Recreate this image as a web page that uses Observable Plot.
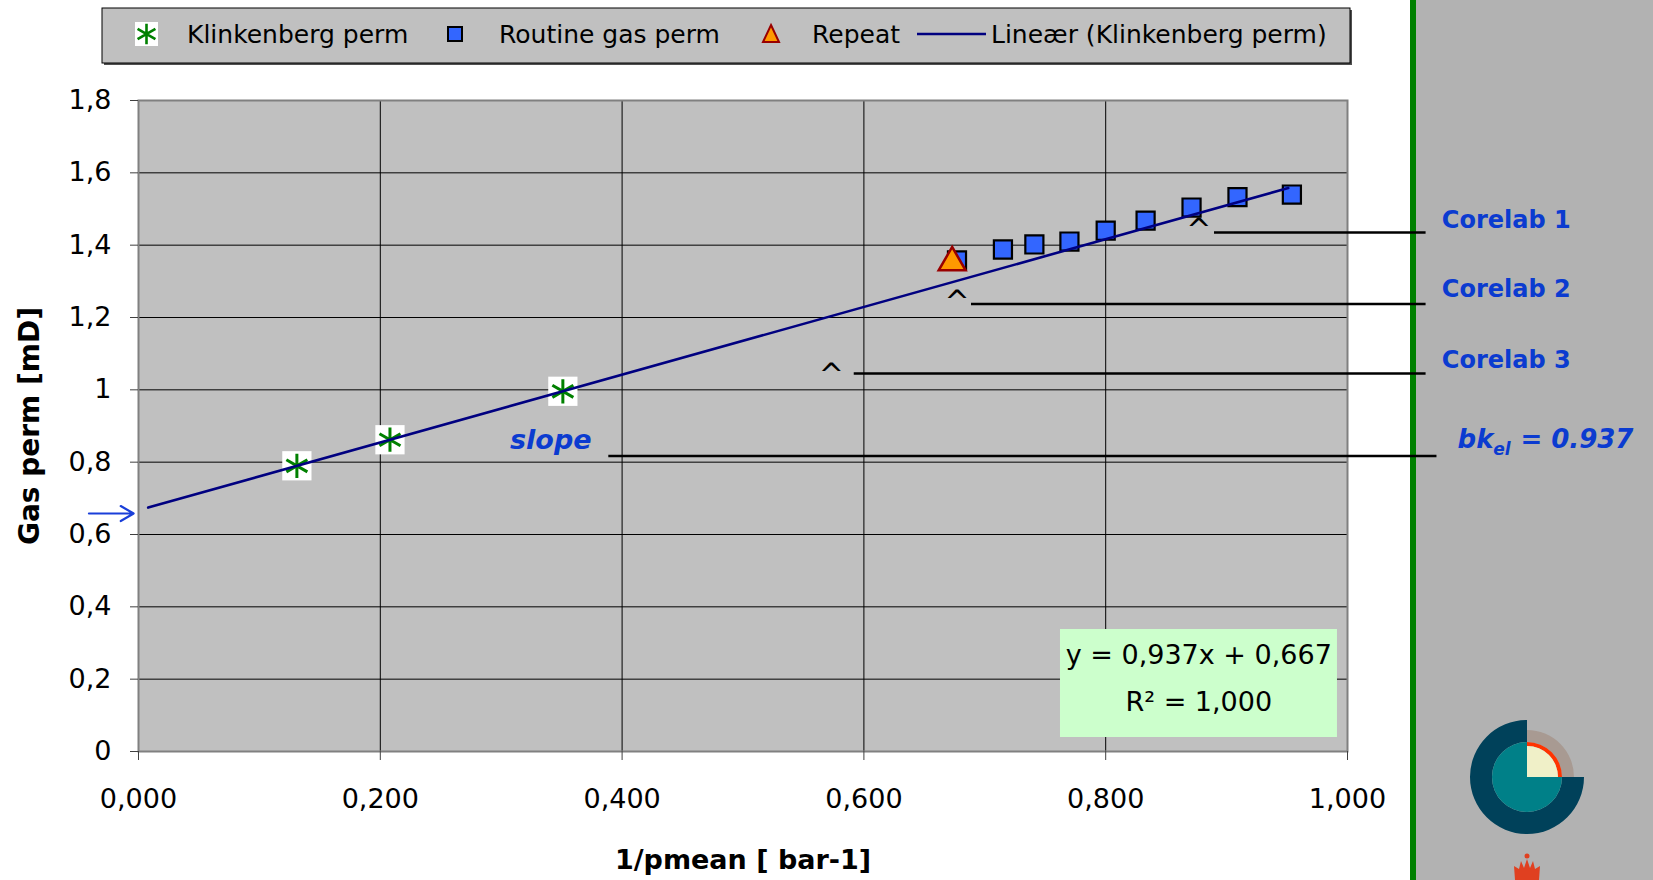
<!DOCTYPE html>
<html>
<head>
<meta charset="utf-8">
<script src="https://cdn.jsdelivr.net/npm/d3@7"></script>
<script src="https://cdn.jsdelivr.net/npm/@observablehq/plot@0.6"></script>
<style>
  body { margin: 0; background: #fff; }
  #wrap { position: relative; width: 1653px; height: 880px; overflow: hidden; background: #fff; font-family: "DejaVu Sans", sans-serif; }
  .abs { position: absolute; left: 0; top: 0; }
</style>
</head>
<body>
<div id="wrap">
  <div class="abs" style="left:1410px;width:6px;height:880px;background:#008000"></div>
  <div class="abs" style="left:1416px;width:237px;height:880px;background:#b2b2b2"></div>
</div>
<script>
// ---------- data ----------
const seriesNames = ["Klinkenberg perm", "Routine gas perm", "Repeat", "Lineær (Klinkenberg perm)"];
const klinkX = [0.131, 0.208, 0.351];
const klinkY = [0.790, 0.862, 0.996];
const routineX = [0.677, 0.715, 0.741, 0.770, 0.800, 0.833, 0.871, 0.909, 0.954];
const routineY = [1.358, 1.388, 1.402, 1.410, 1.440, 1.468, 1.504, 1.533, 1.540];
const repeatX = [0.673];
const repeatY = [1.352];
const trendSlope = 0.937;
const trendIntercept = 0.667;
const trendR2 = 1.000;
const trendX = [0.008, 0.951];
const xTicks = [0, 0.2, 0.4, 0.6, 0.8, 1.0];
const yTicks = [0, 0.2, 0.4, 0.6, 0.8, 1.0, 1.2, 1.4, 1.6, 1.8];
const xTitle = "1/pmean [ bar-1]";
const yTitle = "Gas perm [mD]";

// annotations (data coordinates)
const corelabLabels = ["Corelab 1", "Corelab 2", "Corelab 3"];
const corelabCaretX = [0.877, 0.677, 0.573];
const corelabCaretY = [1.466, 1.266, 1.065];
const corelabLineX1 = [0.890, 0.689, 0.592];
const corelabLineX2 = [1.065, 1.065, 1.065];
const corelabLineY = [1.435, 1.237, 1.045];
const corelabTextX = [1.078, 1.078, 1.078];
const corelabTextY = [1.470, 1.278, 1.083];
const slopeLabel = "slope";
const slopeTextX = [0.341];
const slopeTextY = [0.861];
const slopeLineX = [0.389, 1.074];
const slopeLineY = [0.817];
const bkParts = ["bk", "el", "= 0.937"];
const bkX = [1.091, 1.1205, 1.143];
const bkY = [0.861, 0.861, 0.861];
const arrowX = [-0.041, -0.004];
const arrowY = [0.658, 0.658];
const eqBoxX = [0.7626, 0.9917];
const eqBoxY = [0.0387, 0.3373];
const eqTextX = [0.877, 0.877];
const eqTextY = [0.2654, 0.1355];

// ---------- helpers ----------
const comma = s => s.replace(".", ",");
const xFmt = v => comma(d3.format(".3f")(v));
const yFmt = v => comma(String(+v.toFixed(1)));
const eqLines = [
  "y = " + comma(trendSlope.toFixed(3)) + "x + " + comma(trendIntercept.toFixed(3)),
  "R² = " + comma(trendR2.toFixed(3))
];
const blue = "#0b3bd0";

const plot = Plot.plot({
  width: 1653,
  height: 880,
  marginTop: 100,
  marginBottom: 129,
  marginLeft: 138,
  marginRight: 306,
  x: {domain: [0, 1]},
  y: {domain: [0, 1.8]},
  style: {background: "transparent", fontFamily: "DejaVu Sans", color: "#000"},
  marks: [
    Plot.frame({fill: "#c0c0c0"}),
    Plot.gridY(yTicks, {stroke: "#000", strokeOpacity: 1, strokeWidth: 1}),
    Plot.gridX(xTicks, {stroke: "#000", strokeOpacity: 1, strokeWidth: 1}),
    Plot.frame({stroke: "#808080", strokeWidth: 2}),
    Plot.axisY(yTicks, {tickFormat: yFmt, tickSize: 8, tickPadding: 19, fontSize: 27, label: null, stroke: "#404040"}),
    Plot.axisX(xTicks, {tickFormat: xFmt, tickSize: 9, tickPadding: 28, fontSize: 27, label: null, stroke: "#404040"}),
    // equation box
    Plot.rect([0], {x1: eqBoxX[0], x2: eqBoxX[1], y1: eqBoxY[0], y2: eqBoxY[1], fill: "#ccffcc"}),
    Plot.text(eqLines, {x: eqTextX, y: eqTextY, text: d => d, fontSize: 27, fill: "#000"}),
    // Klinkenberg
    Plot.dot(klinkX, {x: klinkX, y: klinkY, symbol: "square", fill: "white", r: 16.5}),
    Plot.dot(klinkX, {x: klinkX, y: klinkY, symbol: "asterisk", stroke: "#008000", strokeWidth: 3, r: 11.5}),
    // Routine gas perm
    Plot.dot(routineX, {x: routineX, y: routineY, symbol: "square", fill: "#3366ff", stroke: "#000", strokeWidth: 2.2, r: 10.2}),
    // Repeat
    Plot.dot(repeatX, {x: repeatX, y: repeatY, symbol: "triangle", fill: "#ff9900", stroke: "#990000", strokeWidth: 2.5, r: 10}),
    // trendline
    Plot.line(trendX, {x: trendX, y: trendX.map(v => trendSlope * v + trendIntercept), stroke: "#000080", strokeWidth: 2.6}),
    // annotations
    Plot.text(corelabCaretX, {x: corelabCaretX, y: corelabCaretY, text: () => "^", fontSize: 30, dy: 9, fill: "#000"}),
    Plot.ruleY(corelabLineY, {y: corelabLineY, x1: corelabLineX1, x2: corelabLineX2, stroke: "#000", strokeWidth: 2.5}),
    Plot.ruleY(slopeLineY, {y: slopeLineY, x1: slopeLineX[0], x2: slopeLineX[1], stroke: "#000", strokeWidth: 2.5}),
    Plot.text(corelabLabels, {x: corelabTextX, y: corelabTextY, text: d => d, textAnchor: "start", fontSize: 24, fontWeight: "bold", fill: blue}),
    Plot.text([slopeLabel], {x: slopeTextX, y: slopeTextY, text: d => d, fontSize: 27, fontWeight: "bold", fontStyle: "italic", fill: blue}),
    Plot.text(bkParts, {x: bkX, y: bkY, text: d => d, textAnchor: "start",
      fontSize: (d, i) => i === 1 ? 17 : 26, fontWeight: "bold", fontStyle: "italic", fill: blue}),
    Plot.arrow([0], {x1: arrowX[0], x2: arrowX[1], y1: arrowY[0], y2: arrowY[1], stroke: "#1a3fd9", strokeWidth: 2.2, headLength: 14}),
    // axis titles
    Plot.text([xTitle], {frameAnchor: "bottom", dy: 117, text: d => d, fontSize: 27, fontWeight: "bold", fill: "#000"}),
    Plot.text([yTitle], {frameAnchor: "left", dx: -108, textAnchor: "middle", lineAnchor: "middle", rotate: -90, text: d => d, fontSize: 28, fontWeight: "bold", fill: "#000"})
  ]
});
plot.style.position = "absolute";
plot.style.left = "0px";
plot.style.top = "0px";
const wrap = document.getElementById("wrap");

// subscript offset for "el"
d3.select(plot).selectAll("text").each(function() {
  if (this.textContent === "el") {
    const t = d3.select(this).attr("transform") || "";
    d3.select(this).attr("transform", t + " translate(0,9)");
  }
});

// ---------- logo ----------
const logo = d3.create("svg").attr("width", 1653).attr("height", 880)
  .style("position", "absolute").style("left", "0px").style("top", "0px");
const lg = logo.append("g").attr("transform", "translate(1527,777)");
const arc = d3.arc();
const TAU = Math.PI * 2;
lg.append("path").attr("d", arc({innerRadius: 35, outerRadius: 57, startAngle: Math.PI / 2, endAngle: TAU})).attr("fill", "#00415a");
lg.append("path").attr("d", arc({innerRadius: 0, outerRadius: 35, startAngle: Math.PI / 2, endAngle: TAU})).attr("fill", "#008088");
lg.append("path").attr("d", arc({innerRadius: 35, outerRadius: 47, startAngle: 0, endAngle: Math.PI / 2})).attr("fill", "#a89a92");
lg.append("path").attr("d", arc({innerRadius: 31, outerRadius: 35, startAngle: 0, endAngle: Math.PI / 2})).attr("fill", "#ff3300");
lg.append("path").attr("d", arc({innerRadius: 0, outerRadius: 31, startAngle: 0, endAngle: Math.PI / 2})).attr("fill", "#f0f0c8");
// crown
logo.append("path")
  .attr("d", "M1515,880 L1514,866 L1519,869 L1521,861 L1524,868 L1527,859 L1530,868 L1533,861 L1535,869 L1540,866 L1539,880 Z")
  .attr("fill", "#e04020");
logo.append("circle").attr("cx", 1527).attr("cy", 856).attr("r", 2.5).attr("fill", "#e04020");
wrap.appendChild(logo.node());
wrap.appendChild(plot);

// ---------- legend ----------
const leg = d3.create("svg").attr("width", 1653).attr("height", 72)
  .style("position", "absolute").style("left", "0px").style("top", "0px")
  .style("font-family", "DejaVu Sans");
leg.append("rect").attr("x", 104).attr("y", 10).attr("width", 1248).attr("height", 55).attr("fill", "#505050");
leg.append("rect").attr("x", 102).attr("y", 8).attr("width", 1248).attr("height", 55).attr("fill", "#c0c0c0").attr("stroke", "#000").attr("stroke-width", 1);
const cy = 34;
// Klinkenberg marker
leg.append("rect").attr("x", 135).attr("y", cy - 12).attr("width", 23).attr("height", 24).attr("fill", "#fff");
const sym = d3.symbol(d3.symbolAsterisk, 300)();
leg.append("path").attr("d", sym).attr("transform", `translate(146.5,${cy})`).attr("stroke", "#008000").attr("stroke-width", 2.6).attr("fill", "none");
// Routine marker
leg.append("rect").attr("x", 448).attr("y", cy - 7).attr("width", 14).attr("height", 14).attr("fill", "#3366ff").attr("stroke", "#000").attr("stroke-width", 2);
// Repeat marker
leg.append("path").attr("d", `M771,${cy - 9} L779,${cy + 8} L763,${cy + 8} Z`).attr("fill", "#ff9900").attr("stroke", "#990000").attr("stroke-width", 2);
// Line marker
leg.append("line").attr("x1", 917).attr("x2", 986).attr("y1", cy).attr("y2", cy).attr("stroke", "#000080").attr("stroke-width", 2.6);
const legTextX = [187, 499, 812, 991];
seriesNames.forEach((name, i) => {
  leg.append("text").attr("x", legTextX[i]).attr("y", cy).attr("dy", "0.35em")
    .attr("font-size", 25).attr("fill", "#000").text(name);
});
wrap.appendChild(leg.node());
</script>
</body>
</html>
